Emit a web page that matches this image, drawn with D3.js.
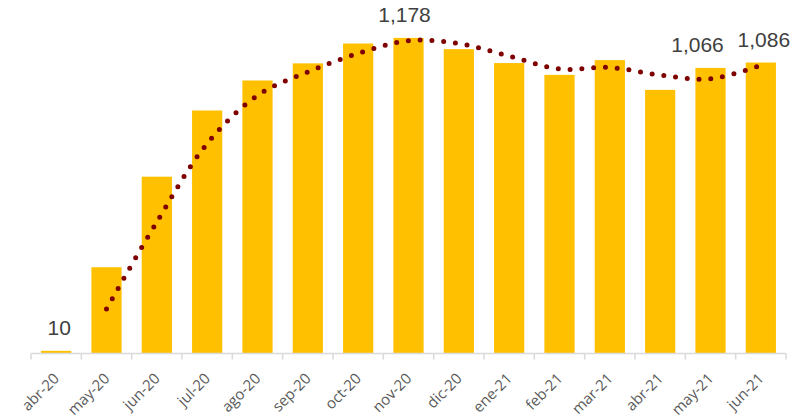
<!DOCTYPE html>
<html>
<head>
<meta charset="utf-8">
<script src="https://cdn.jsdelivr.net/npm/d3@7/dist/d3.min.js"></script>
<style>
  body { margin: 0; background: #fff; }
  svg { display: block; }
</style>
</head>
<body>
<div id="chart"></div>
<script>
// Data

var months = ["abr-20", "may-20", "jun-20", "jul-20", "ago-20", "sep-20", "oct-20",
	"nov-20", "dic-20", "ene-21", "feb-21", "mar-21", "abr-21", "may-21", "jun-21"];
var values = [10, 322, 660, 907, 1019, 1083, 1157, 1178, 1136, 1084, 1040, 1095, 984, 1066, 1086];
var labelled = ["abr-20", "nov-20", "may-21", "jun-21"];

var totwidth = 804,
	totheight = 418,
	paddingLeft = 31,
	paddingRight = 18,
	baseline = 353.5,
	plotTop = 32;

// labels were nudged by hand in the original so they don't collide
var labelShift = {"abr-20": 3, "nov-20": -4, "may-21": -13, "jun-21": 3};

var svg = d3.select("#chart").append("svg")
	.attr("width", totwidth)
	.attr("height", totheight);

// Scales

var x = d3.scaleBand()
	.domain(months)
	.range([paddingLeft, totwidth - paddingRight])
	.paddingInner(0.4)
	.paddingOuter(0.2);

var y = d3.scaleLinear()
	.domain([0, 1200])
	.range([baseline, plotTop]);

// Bars

svg.append("g")
	.selectAll("rect")
	.data(months)
	.enter().append("rect")
		.attr("x", function(d) { return x(d); })
		.attr("y", function(d, i) { return y(values[i]); })
		.attr("width", x.bandwidth())
		.attr("height", function(d, i) { return baseline - y(values[i]); })
		.attr("fill", "#FFC000");

// Trend line: 2-period moving average, smoothed, round dots

var trend = [];
for (var i = 1; i < values.length; i++) {
	trend.push({m: months[i], v: (values[i] + values[i - 1]) / 2});
}

var line = d3.line()
	.x(function(d) { return x(d.m) + x.bandwidth() / 2; })
	.y(function(d) { return y(d.v); })
	.curve(d3.curveCatmullRom.alpha(0.5));

svg.append("path")
	.datum(trend)
	.attr("d", line)
	.attr("fill", "none")
	.attr("stroke", "#7F0000")
	.attr("stroke-width", 5)
	.attr("stroke-linecap", "round")
	.attr("stroke-dasharray", "0 11.8");

// Axis line and ticks at band boundaries

var axis = svg.append("g");
var r = x.range();
axis.append("line")
	.attr("x1", r[0]).attr("x2", r[1])
	.attr("y1", baseline).attr("y2", baseline)
	.attr("stroke", "#D9D9D9")
	.attr("stroke-width", 1.5);

axis.selectAll("line.tick")
	.data(d3.range(months.length + 1))
	.enter().append("line")
		.attr("class", "tick")
		.attr("x1", function(d) { return r[0] + d * x.step(); })
		.attr("x2", function(d) { return r[0] + d * x.step(); })
		.attr("y1", baseline)
		.attr("y2", baseline + 6)
		.attr("stroke", "#D9D9D9")
		.attr("stroke-width", 1.5);

axis.selectAll("text")
	.data(months)
	.enter().append("text")
		.attr("transform", function(d) {
			return "translate(" + (x(d) + x.bandwidth() / 2 + 4) + "," + (baseline + 26) + ") rotate(-45)";
		})
		.attr("text-anchor", "end")
		.attr("font-family", "'Open Sans', sans-serif")
		.attr("font-size", 15)
		.attr("fill", "#595959")
		.text(function(d) { return d; });

// Data labels

var fmt = d3.format(",");
svg.append("g")
	.selectAll("text")
	.data(labelled)
	.enter().append("text")
		.attr("x", function(d) { return x(d) + x.bandwidth() / 2 + labelShift[d]; })
		.attr("y", function(d) { return y(values[months.indexOf(d)]) - 16; })
		.attr("text-anchor", "middle")
		.attr("font-family", "'Liberation Sans', Arial, sans-serif")
		.attr("font-size", 21)
		.attr("fill", "#404040")
		.text(function(d) { return fmt(values[months.indexOf(d)]); });
</script>
</body>
</html>
